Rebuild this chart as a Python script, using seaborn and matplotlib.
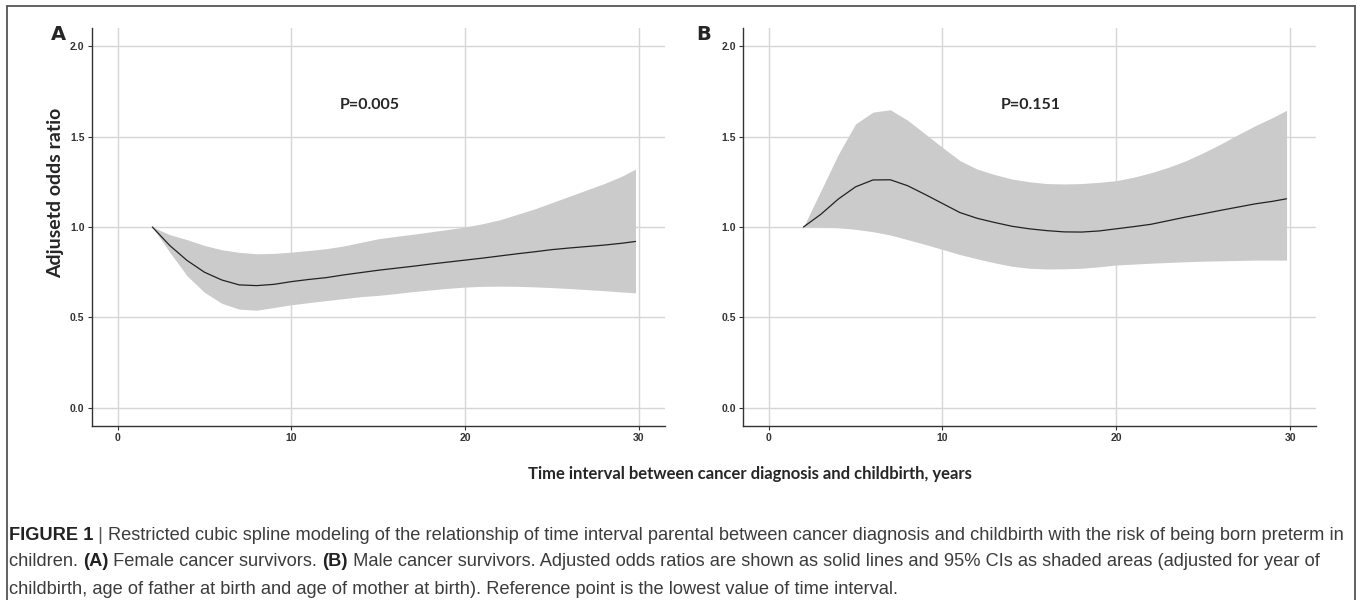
import numpy as np
import pandas as pd
import seaborn as sns
import matplotlib.pyplot as plt
from matplotlib.lines import Line2D

# values (restricted cubic spline, OR with 95% CI)
years = [2, 3, 4, 5, 6, 7, 8, 9, 10, 11, 12, 13, 14, 15, 16, 17, 18, 19, 20,
         21, 22, 23, 24, 25, 26, 27, 28, 29, 29.8]

female_or = [1.0, 0.898, 0.815, 0.75, 0.707, 0.68, 0.676, 0.683, 0.698, 0.71,
             0.72, 0.735, 0.748, 0.761, 0.772, 0.783, 0.795, 0.806, 0.817,
             0.828, 0.84, 0.852, 0.863, 0.875, 0.884, 0.892, 0.90, 0.91, 0.92]
female_hi = [1.0, 0.958, 0.93, 0.898, 0.874, 0.86, 0.852, 0.854, 0.861, 0.87,
             0.88, 0.895, 0.915, 0.935, 0.948, 0.96, 0.973, 0.986, 1.0,
             1.018, 1.04, 1.07, 1.10, 1.135, 1.17, 1.205, 1.24, 1.28, 1.32]
female_lo = [1.0, 0.861, 0.73, 0.639, 0.578, 0.546, 0.54, 0.555, 0.57, 0.582,
             0.593, 0.604, 0.615, 0.622, 0.632, 0.643, 0.652, 0.661, 0.668,
             0.672, 0.673, 0.672, 0.669, 0.665, 0.66, 0.654, 0.648, 0.641, 0.636]

male_or = [1.0, 1.07, 1.154, 1.222, 1.26, 1.261, 1.228, 1.18, 1.13, 1.08,
           1.048, 1.025, 1.004, 0.99, 0.98, 0.973, 0.972, 0.978, 0.99,
           1.002, 1.015, 1.035, 1.055, 1.073, 1.092, 1.11, 1.128, 1.142, 1.156]
male_hi = [1.0, 1.2, 1.40, 1.57, 1.635, 1.648, 1.59, 1.515, 1.44, 1.367,
           1.32, 1.29, 1.265, 1.25, 1.24, 1.238, 1.24, 1.247, 1.256,
           1.275, 1.30, 1.33, 1.366, 1.41, 1.458, 1.51, 1.56, 1.605, 1.645]
male_lo = [1.0, 1.0, 0.996, 0.987, 0.974, 0.956, 0.93, 0.904, 0.876, 0.848,
           0.824, 0.802, 0.783, 0.772, 0.768, 0.769, 0.772, 0.78, 0.79,
           0.795, 0.80, 0.804, 0.808, 0.811, 0.813, 0.815, 0.817, 0.817, 0.817]

panels = ['A', 'B']
p_values = ['P=0.005', 'P=0.151']
x_ticks = [0, 10, 20, 30]
y_ticks = [0.0, 0.5, 1.0, 1.5, 2.0]

df = pd.DataFrame({
    'years': years * 2,
    'or': female_or + male_or,
    'hi': female_hi + male_hi,
    'lo': female_lo + male_lo,
    'panel': ['A'] * len(years) + ['B'] * len(years),
})

sns.set_theme(style='white')
tick_font = ['Liberation Sans', 'DejaVu Sans']
label_font = ['Lato', 'DejaVu Sans']
cap_font = ['Liberation Sans', 'DejaVu Sans']

W, H = 1357, 600
fig = plt.figure(figsize=(W / 100, H / 100), dpi=100)

axes_left = [91.5, 742.6]
p_x = [14.5, 15.1]
label_x = [58, 704]
for panel, pval, left, px, lx in zip(panels, p_values, axes_left, p_x, label_x):
    ax = fig.add_axes([left / W, 174 / H, 573.5 / W, 398 / H])
    d = df[df.panel == panel]
    ax.fill_between(d['years'], d['lo'], d['hi'], color='#cbcbcb', lw=0, zorder=2)
    sns.lineplot(data=d, x='years', y='or', color='#222222', lw=0.9, ax=ax, zorder=3)
    ax.set_xlim(-1.5, 31.5)
    ax.set_ylim(-0.1, 2.1)
    ax.set_xticks(x_ticks)
    ax.set_yticks(y_ticks)
    ax.set_xticklabels([str(t) for t in x_ticks], fontsize=7.5, weight='bold', family=tick_font, color='#333333')
    ax.set_yticklabels(['%.1f' % t for t in y_ticks], fontsize=7.5, weight='bold', family=tick_font, color='#333333')
    ax.tick_params(length=3, width=0.8, color='#333333', pad=2, left=True, bottom=True)
    ax.grid(True, color='#d6d6d6', lw=1.0, zorder=0)
    ax.set_axisbelow(True)
    for s in ['top', 'right']:
        ax.spines[s].set_visible(False)
    for s in ['left', 'bottom']:
        ax.spines[s].set_color('#333333')
        ax.spines[s].set_linewidth(1.0)
    ax.set_xlabel('')
    ax.set_ylabel('')
    ax.text(px, 1.674, pval, ha='center', va='center', fontsize=11.5, weight='bold', family=label_font)
    fig.text(lx / W, 1 - 34 / H, panel, ha='center', va='center', fontsize=14, weight='bold', family=['DejaVu Sans'])

fig.text(56 / W, 1 - 193 / H, 'Adjusetd odds ratio', rotation=90, ha='center', va='center',
         fontsize=14, weight='bold', family=label_font)
fig.text(750 / W, 1 - 474 / H, 'Time interval between cancer diagnosis and childbirth, years',
         ha='center', va='center', fontsize=12, weight='bold', family=label_font)

# caption, drawn run by run so bold parts sit inline
caption = [
    [('FIGURE 1', 'bold', '#222222'), (' | ', 'light', '#555555'),
     ('Restricted cubic spline modeling of the relationship of time interval parental between cancer diagnosis and childbirth with the risk of being born preterm in', 'normal', '#3c3c3c')],
    [('children. ', 'normal', '#3c3c3c'), ('(A)', 'bold', '#222222'),
     (' Female cancer survivors. ', 'normal', '#3c3c3c'), ('(B)', 'bold', '#222222'),
     (' Male cancer survivors. Adjusted odds ratios are shown as solid lines and 95% CIs as shaded areas (adjusted for year of', 'normal', '#3c3c3c')],
    [('childbirth, age of father at birth and age of mother at birth). Reference point is the lowest value of time interval.', 'normal', '#3c3c3c')],
]
renderer = fig.canvas.get_renderer()

# size the caption so the first line runs from x=9 to about x=1346 as in the reference
probe = 12.0
width = 0
for s, w, c in caption[0]:
    t = fig.text(0, 0, s, fontsize=probe, weight=w, family=cap_font)
    width += t.get_window_extent(renderer=renderer).width
    t.remove()
cap_size = probe * 1335 / width

for row, line_y in zip(caption, [535, 562, 589]):
    x = 9 / W
    for s, w, c in row:
        t = fig.text(x, 1 - line_y / H, s, fontsize=cap_size, weight=w, color=c, family=cap_font, va='center')
        x += t.get_window_extent(renderer=renderer).width / fig.bbox.width

# frame round the whole figure
frame_kw = dict(color='#555555', lw=1.3, transform=fig.transFigure)
fig.add_artist(Line2D([7 / W, 1355 / W], [1 - 6 / H, 1 - 6 / H], **frame_kw))
fig.add_artist(Line2D([7 / W, 7 / W], [0, 1 - 6 / H], **frame_kw))
fig.add_artist(Line2D([1355 / W, 1355 / W], [0, 1 - 6 / H], **frame_kw))

plt.savefig('out.png', dpi=100)
